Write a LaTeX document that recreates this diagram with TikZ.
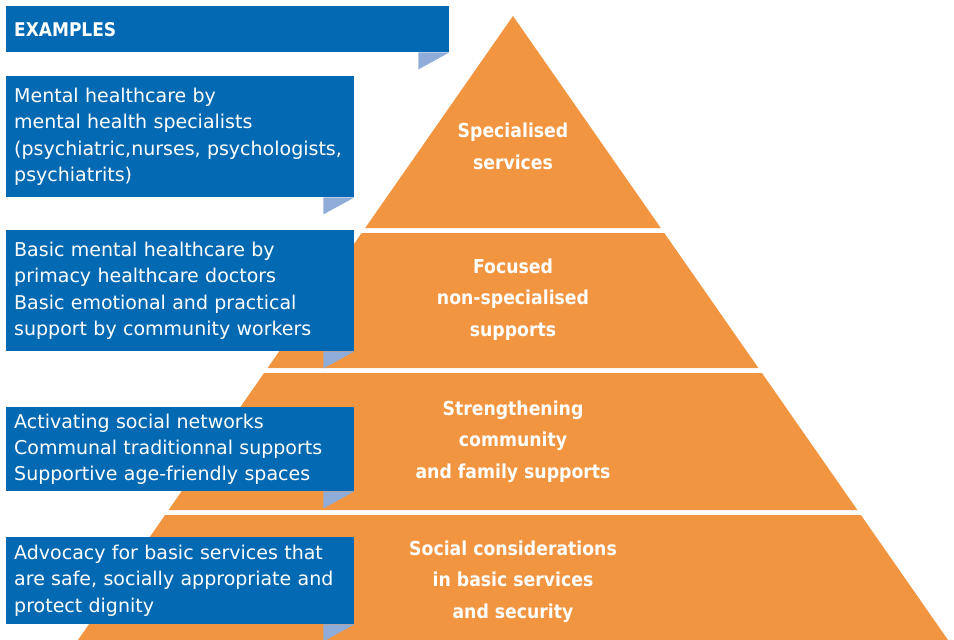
\documentclass[tikz,border=0pt]{standalone}
\usepackage{fontspec}
\usetikzlibrary{calc}
\setmainfont{DejaVu Sans}[BoldFeatures={FakeStretch=0.9}]
\definecolor{pblue}{HTML}{0369B3}
\definecolor{ptail}{HTML}{8FACD9}
\definecolor{porange}{HTML}{F29541}
\begin{document}
\begin{tikzpicture}[x=1pt,y=-1pt,
  bluebox/.style={fill=pblue,text=white,anchor=north west,inner xsep=8pt,inner ysep=0pt,
    minimum width=348pt,text width=332pt,align=left,font=\fontsize{19}{26.3}\selectfont},
  tail/.style={fill=ptail},
  layer/.style={fill=porange},
  ptext/.style={text=white,align=center,font=\bfseries\fontsize{19.2}{31.7}\selectfont}]
\useasboundingbox (0,0) rectangle (954,640);
% pyramid layers
\fill[layer] (513,16) -- (660.8,228) -- (365.2,228) -- cycle;
\fill[layer] (361.7,233) -- (664.3,233) -- (758.4,368) -- (267.6,368) -- cycle;
\fill[layer] (264.1,373) -- (761.9,373) -- (857.4,510) -- (168.6,510) -- cycle;
\fill[layer] (165.1,515) -- (860.9,515) -- (948,640) -- (78,640) -- cycle;
\node[ptext] (l1) at (513,146.5) {Specialised\\services};
\node[ptext] (l2) at (513,299.5) {Focused\\non-specialised\\supports};
\node[ptext] (l3) at (513,441.5) {Strengthening\\community\\and family supports};
\node[ptext] (l4) at (513,581.5) {Social considerations\\in basic services\\and security};
% boxes
\node[bluebox,minimum width=443pt,text width=427pt,minimum height=46pt,font=\bfseries\fontsize{18.9}{26.3}\selectfont] (b0) at (6,6) {EXAMPLES};
\node[bluebox,minimum height=121pt] (b1) at (6,76) {Mental healthcare by\\mental health specialists\\(psychiatric,nurses, psychologists,\\psychiatrits)};
\node[bluebox,minimum height=121pt] (b2) at (6,230) {Basic mental healthcare by\\primacy healthcare doctors\\Basic emotional and practical\\support by community workers};
\node[bluebox,minimum height=84pt] (b3) at (6,407) {Activating social networks\\Communal traditionnal supports\\Supportive age-friendly spaces};
\node[bluebox,minimum height=87pt] (b4) at (6,537) {Advocacy for basic services that\\are safe, socially appropriate and\\protect dignity};
% tails
\foreach \b in {b0,b1,b2,b3,b4}{
  \fill[tail] ($(\b.south east)+(-31,0)$) -- (\b.south east) -- ($(\b.south east)+(-31,17)$) -- cycle;
}
\end{tikzpicture}
\end{document}
